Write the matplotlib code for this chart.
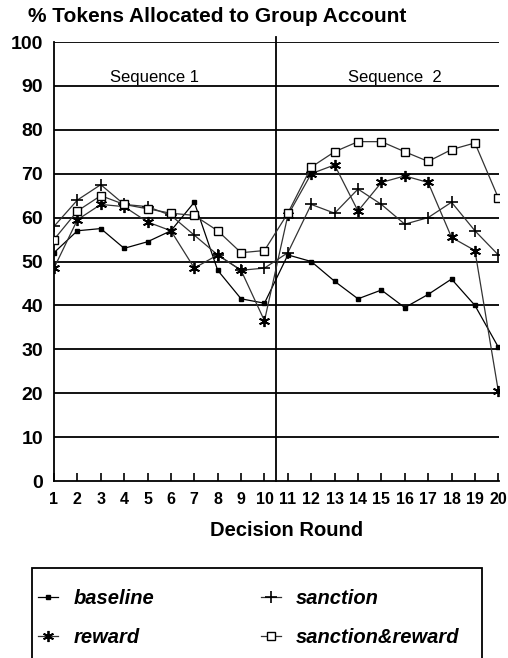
import matplotlib
matplotlib.use("Agg")
import matplotlib.pyplot as plt
from matplotlib.patches import Rectangle

plt.rcParams['font.family'] = ['Liberation Sans', 'DejaVu Sans']

rounds = list(range(1, 21))
baseline = [52, 57, 57.5, 53, 54.5, 57, 63.5, 48, 41.5, 40.5,
            51.5, 50, 45.5, 41.5, 43.5, 39.5, 42.5, 46, 40, 30.5]
sanction = [58, 64, 67.5, 63, 62.5, 60.5, 56, 51.5, 48, 48.5,
            52, 63, 61, 66.5, 63, 58.5, 60, 63.5, 57, 51.5]
reward = [48.5, 59.5, 63, 62.5, 59, 57, 48.5, 51.5, 48, 36.5,
          60.5, 70, 72, 61.5, 68, 69.5, 68, 55.5, 52.5, 20.5]
sanction_reward = [55, 61.5, 65, 63, 62, 61, 60.5, 57, 52, 52.5,
                   61, 71.5, 75, 77.3, 77.3, 75, 72.8, 75.5, 77, 64.5]
y_ticks = list(range(0, 101, 10))
title = "% Tokens Allocated to Group Account"
xlabel = "Decision Round"
seq_labels = ["Sequence 1", "Sequence  2"]

W, H = 508, 658
fig = plt.figure(figsize=(W / 100, H / 100), dpi=100)
ax = fig.add_axes([54 / W, 1 - 481 / H, (499 - 54) / W, (481 - 42) / H])

ax.set_xlim(1, 20.03)
ax.set_ylim(0, 100)

for yv in y_ticks[1:]:
    ax.axhline(yv, color='black', lw=1.3, zorder=1)
ax.axvline(10.5, ymin=0, ymax=1.012, color='black', lw=1.3, clip_on=False, zorder=1)

l1, = ax.plot(rounds, baseline, color='black', lw=0.9, marker='s', ms=2.6,
              mfc='black', mec='black', zorder=3, label='baseline')
l2, = ax.plot(rounds, sanction, color='#333333', lw=0.9, marker='+', ms=9,
              mew=1.2, mec='black', zorder=3, label='sanction')
l3, = ax.plot(rounds, reward, color='#333333', lw=0.9, marker=(6, 2, 0), ms=8,
              mew=1.3, mec='black', zorder=3, label='reward')
l4, = ax.plot(rounds, sanction_reward, color='#333333', lw=0.9, marker='s', ms=6,
              mfc='white', mec='black', mew=1.0, zorder=4, label='sanction&reward')

for s in ['top', 'right']:
    ax.spines[s].set_visible(False)
ax.spines['left'].set_linewidth(1.3)
ax.spines['bottom'].set_linewidth(1.3)

ax.set_xticks(rounds)
ax.set_xticklabels([str(r) for r in rounds], fontsize=11.5, fontweight='bold')
ax.tick_params(axis='x', direction='in', length=6, width=1.2, pad=8)
ax.set_yticks(y_ticks)
ax.set_yticklabels([str(v) for v in y_ticks], fontsize=14, fontweight='bold')
ax.tick_params(axis='y', length=0, pad=8)

ax.text(5.3, 91.8, seq_labels[0], fontsize=12, ha='center', va='center')
ax.text(15.58, 91.8, seq_labels[1], fontsize=12, ha='center', va='center')

fig.text(28 / W, 1 - 17 / H, title, fontsize=15, fontweight='bold',
         ha='left', va='center')
fig.text(287 / W, 1 - 531 / H, xlabel, fontsize=14.5, fontweight='bold',
         ha='center', va='center')

fig.patches.append(Rectangle((32 / W, -0.05), (482 - 32) / W, 0.05 + 1 - 568 / H,
                             transform=fig.transFigure, fill=False,
                             edgecolor='black', lw=1.3))
fig.legend([l1, l3, l2, l4], ['baseline', 'reward', 'sanction', 'sanction&reward'],
           ncol=2, loc='upper left', bbox_to_anchor=(38 / W, 1 - 589 / H),
           frameon=False, borderpad=0, borderaxespad=0, handlelength=1.0,
           handletextpad=0.75, columnspacing=5.3, labelspacing=1.0,
           prop={'size': 14.5, 'weight': 'bold', 'style': 'italic'})

fig.savefig('out.png', dpi=100)
